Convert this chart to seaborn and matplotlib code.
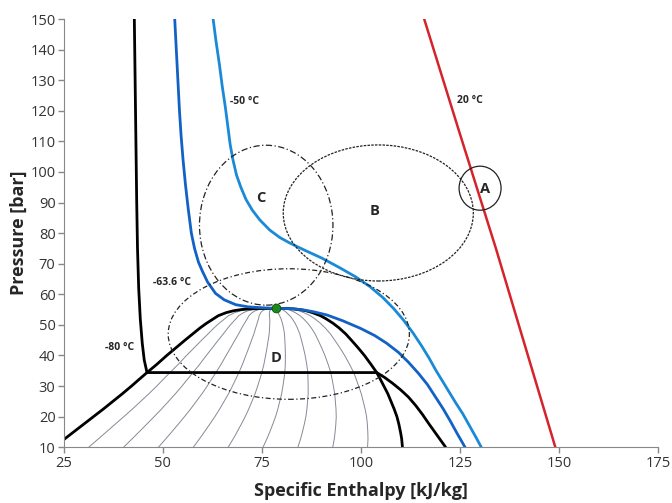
import numpy as np
import pandas as pd
import seaborn as sns
import matplotlib.pyplot as plt
from matplotlib.patches import Ellipse

# saturation dome at common pressure levels
p_sat = [10, 12.8, 15, 17.5, 20, 22.5, 25, 27.5, 30, 32.5, 34.4, 37, 40, 42.5, 45, 47,
         49, 50.5, 52, 53, 54, 54.6, 55.0, 55.2, 55.35, 55.4]
h_liq = [22.5, 25.3, 27.5, 30.0, 32.5, 35.0, 37.4, 39.8, 42.1, 44.3, 46.0, 48.4, 51.0, 53.3,
         55.6, 57.5, 59.4, 61.0, 62.8, 64.0, 66.0, 67.8, 69.8, 71.5, 74.5, 78.6]
h_vap = [110.5, 110.3, 110.0, 109.6, 109.1, 108.4, 107.6, 106.8, 105.8, 104.8, 104.0, 102.6,
         100.9, 99.3, 97.6, 96.2, 94.5, 93.0, 91.2, 89.8, 87.8, 86.2, 84.6, 83.2, 81.5, 78.6]
quality = [0.1, 0.2, 0.3, 0.4, 0.5, 0.6, 0.7, 0.8, 0.9]

# isotherms (h [kJ/kg], P [bar])
iso_m80_h = [42.8, 43.0, 43.2, 43.4, 43.6, 43.9, 44.3, 44.8, 45.3, 46.0,
             104.0, 106.0, 108.0, 110.0, 112.0, 113.8, 115.5, 117.2, 119.3, 121.4]
iso_m80_p = [150, 130, 110, 90, 75, 62, 52, 44, 38.5, 34.4,
             34.4, 32.8, 30.9, 28.8, 26.4, 23.7, 20.8, 17.6, 13.8, 10]
iso_crit_h = [53.0, 53.4, 53.8, 54.2, 54.6, 55.1, 55.7, 56.4, 57.2, 58.0, 59.0, 60.0, 61.3,
              63.3, 65.5, 68.4, 71.5, 75.0, 78.6, 82.0, 85.0, 88.0, 91.5, 95.5, 100.0, 103.5,
              106.5, 109.5, 112.0, 114.5, 116.8, 118.8, 120.8, 122.6, 124.3, 126.3]
iso_crit_p = [150, 140, 130, 120, 112, 104, 96, 88, 80, 75, 70.5, 67.5, 64,
              60.3, 58.2, 56.6, 55.9, 55.6, 55.4, 55.3, 55.0, 54.3, 53.2, 51.3, 48.8, 46.5,
              44.0, 41.0, 37.8, 34.2, 30.5, 26.5, 22.5, 18.5, 14.5, 10]
iso_m50_h = [62.7, 63.4, 64.3, 65.0, 65.8, 66.4, 67.0, 67.7, 68.6, 69.7, 71.0, 72.6, 74.5,
             77.0, 79.5, 82.0, 86.0, 90.2, 94.5, 98.7, 102.3, 105.5, 108.3, 110.8, 113.2,
             115.3, 117.2, 119.0, 120.8, 122.4, 124.0, 125.7, 127.3, 128.9, 130.4]
iso_m50_p = [150, 143, 135, 128, 121, 115, 109, 104, 99, 95, 91, 87.5, 84.3,
             81.0, 78.6, 76.8, 74.3, 71.8, 68.8, 65.7, 62.5, 59.0, 55.3, 51.5, 47.3,
             43.2, 39.2, 35.0, 31.2, 27.8, 24.4, 21.0, 17.3, 13.6, 10]
iso_20_h = [116.0, 125.0, 134.1, 141.6, 149.1]
iso_20_p = [150, 112.5, 75, 42.5, 10]

crit_h, crit_p = 78.6, 55.4

# region markers: (label, centre h, centre P, width h, height P, style)
regions = [("A", 130.1, 94.7, 10.6, 14.4, "-"),
           ("B", 104.4, 86.6, 48.0, 44.5, (0, (2, 1))),
           ("C", 76.1, 82.6, 33.7, 52.3, (0, (5, 2, 1, 2))),
           ("D", 81.8, 47.0, 60.9, 42.7, (0, (4, 2, 1, 2)))]
region_text = {"A": (131.4, 94.6), "B": (103.5, 87.2), "C": (74.7, 91.5), "D": (78.5, 39.2)}

sns.set_style("ticks")
plt.rcParams['font.family'] = ['Open Sans', 'DejaVu Sans']

fig, ax = plt.subplots(figsize=(6.72, 5.03), dpi=100)
fig.subplots_adjust(left=0.095, right=0.979, top=0.962, bottom=0.111)

# quality lines inside the dome
p_arr = np.array(p_sat)
hl = np.array(h_liq)
hv = np.array(h_vap)
for q in quality:
    sns.lineplot(x=hl + q * (hv - hl), y=p_arr, sort=False, estimator=None,
                 color="#848b96", lw=0.7, ax=ax)

dome = pd.DataFrame({"h": h_liq + h_vap[::-1], "P": p_sat + p_sat[::-1]})
sns.lineplot(data=dome, x="h", y="P", sort=False, estimator=None, color="black", lw=2, ax=ax)

sns.lineplot(x=iso_m80_h, y=iso_m80_p, sort=False, estimator=None, color="black", lw=2, ax=ax)
sns.lineplot(x=iso_crit_h, y=iso_crit_p, sort=False, estimator=None, color="#1261c4", lw=2, ax=ax)
sns.lineplot(x=iso_m50_h, y=iso_m50_p, sort=False, estimator=None, color="#1a8ad8", lw=2, ax=ax)
sns.lineplot(x=iso_20_h, y=iso_20_p, sort=False, estimator=None, color="#d6232b", lw=1.8, ax=ax)

ax.scatter([crit_h], [crit_p], s=40, color="#1b8a1b", edgecolor="#0d4d0d", lw=0.6, zorder=5)

for name, ch, cp, w, hgt, ls in regions:
    ax.add_patch(Ellipse((ch, cp), w, hgt, fill=False, ec="#222222", lw=0.9, ls=ls, zorder=4))
    tx, ty = region_text[name]
    ax.text(tx, ty, name, fontsize=10.5, fontweight="bold", ha="center", va="center")

ax.text(66.9, 122.9, "-50 °C", fontsize=7.5, fontweight="bold", va="center")
ax.text(124.2, 123.5, "20 °C", fontsize=7.5, fontweight="bold", va="center")
ax.text(47.5, 63.7, "-63.6 °C", fontsize=7.5, fontweight="bold", va="center")
ax.text(35.5, 42.6, "-80 °C", fontsize=7.5, fontweight="bold", va="center")

ax.set_xlim(25, 175)
ax.set_ylim(10, 150)
ax.set_xticks([25, 50, 75, 100, 125, 150, 175])
ax.set_yticks(range(10, 151, 10))
ax.set_xlabel("Specific Enthalpy [kJ/kg]", fontsize=13, fontweight="bold", labelpad=8)
ax.set_ylabel("Pressure [bar]", fontsize=13, fontweight="bold", labelpad=2)
ax.tick_params(colors="#888888", labelcolor="#333333", labelsize=10.5, length=4, width=1, pad=2)
sns.despine(ax=ax)
for s in ["left", "bottom"]:
    ax.spines[s].set_color("#888888")

plt.savefig("out.png", dpi=100)
